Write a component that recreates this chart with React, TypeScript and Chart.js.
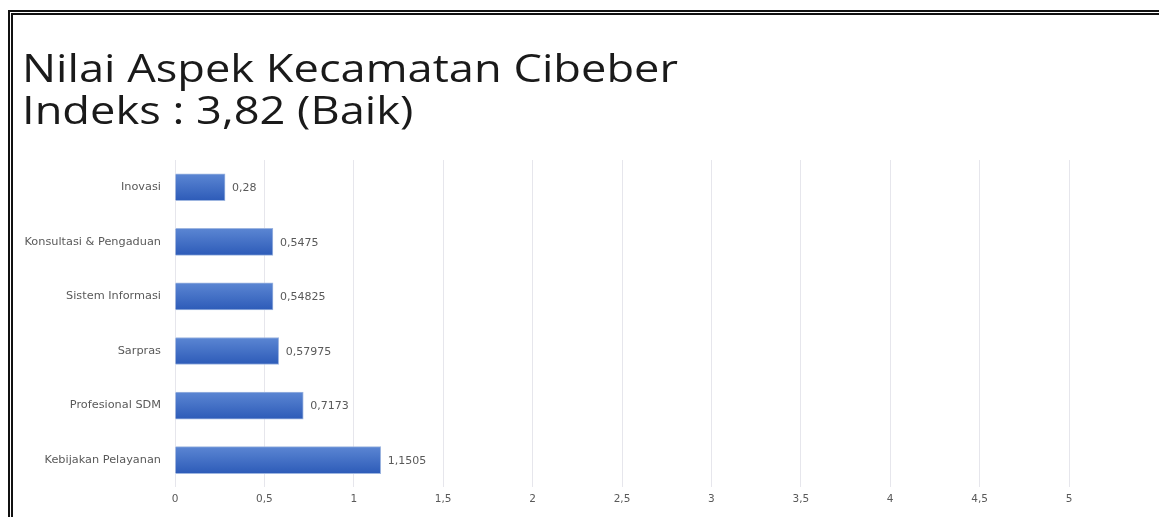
import React, { useEffect, useRef } from "react";
import { Chart, registerables } from "chart.js";

Chart.register(...registerables);

const titleLines = ["Nilai Aspek Kecamatan Cibeber", "Indeks : 3,82 (Baik)"];
const categories = [
  "Inovasi",
  "Konsultasi & Pengaduan",
  "Sistem Informasi",
  "Sarpras",
  "Profesional SDM",
  "Kebijakan Pelayanan",
];
const values = [0.28, 0.5475, 0.54825, 0.57975, 0.7173, 1.1505];
const axisMin = 0;
const axisMax = 5;
const axisStep = 0.5;

const fmt = (v: number) => String(v).replace(".", ",");
const SMALL_FONT = "'DejaVu Sans'";
const BAR_T = 27;

const titlePlugin = {
  id: "stretchedTitle",
  afterDraw(chart: any) {
    const ctx = chart.ctx;
    ctx.save();
    ctx.font = "38px 'Open Sans'";
    ctx.fillStyle = "#1a1a1a";
    ctx.textAlign = "left";
    ctx.textBaseline = "alphabetic";
    ctx.translate(22, 0);
    ctx.scale(1.19, 1);
    ctx.fillText(titleLines[0], 0, 82);
    ctx.fillText(titleLines[1], 0, 124);
    ctx.restore();
  },
};

const labelPlugin = {
  id: "valueLabels",
  afterDatasetsDraw(chart: any) {
    const ctx = chart.ctx;
    ctx.save();
    ctx.font = "11px " + SMALL_FONT;
    ctx.fillStyle = "#595959";
    ctx.textAlign = "left";
    ctx.textBaseline = "middle";
    chart.getDatasetMeta(0).data.forEach((el: any, i: number) => {
      ctx.fillText(fmt(values[i]), el.x + 7, el.y + 1);
    });
    ctx.restore();
  },
};

export default function App() {
  const ref = useRef<HTMLCanvasElement>(null);
  useEffect(() => {
    const chart = new Chart(ref.current!, {
      type: "bar",
      data: {
        labels: categories,
        datasets: [
          {
            data: values,
            backgroundColor: (c: any) => {
              const ch = c.chart;
              const ys = ch.scales && ch.scales.y;
              if (!ys || !ch.chartArea || c.dataIndex === undefined) return "#3F6DC5";
              const y = ys.getPixelForValue(c.dataIndex);
              const g = ch.ctx.createLinearGradient(0, y - BAR_T / 2, 0, y + BAR_T / 2);
              g.addColorStop(0, "#5B86D3");
              g.addColorStop(1, "#2D5BB8");
              return g;
            },
            borderColor: "#9DB5E0",
            borderWidth: 1,
            barThickness: BAR_T,
          },
        ],
      },
      options: {
        indexAxis: "y",
        animation: false,
        responsive: false,
        layout: { padding: { left: 22, right: 90, top: 160, bottom: 5 } },
        plugins: {
          legend: { display: false },
          tooltip: { enabled: false },
          title: { display: false },
        },
        scales: {
          x: {
            min: axisMin,
            max: axisMax,
            grid: { color: "#E6E6EC", drawTicks: false },
            border: { display: false },
            ticks: {
              stepSize: axisStep,
              padding: 6,
              color: "#595959",
              font: { family: SMALL_FONT, size: 10.5 },
              callback: (v: any) => fmt(Number(v)),
            },
          },
          y: {
            grid: { display: false, drawTicks: false },
            border: { display: false },
            ticks: {
              padding: 14,
              color: "#595959",
              font: { family: SMALL_FONT, size: 11.3 },
            },
            afterFit: (scale: any) => {
              scale.width = 153;
            },
          },
        },
      },
      plugins: [labelPlugin, titlePlugin],
    });
    return () => chart.destroy();
  }, []);

  return (
    <div style={{ position: "fixed", left: 0, top: 0, width: 1159, height: 517, background: "#fff", overflow: "hidden" }}>
      <canvas ref={ref} width={1159} height={517} style={{ position: "absolute", left: 0, top: 0 }} />
      <div
        style={{
          position: "absolute",
          left: 8,
          top: 10,
          width: 1200,
          height: 600,
          borderTop: "5px double #111",
          borderLeft: "5px double #111",
          boxSizing: "border-box",
          pointerEvents: "none",
        }}
      />
    </div>
  );
}
